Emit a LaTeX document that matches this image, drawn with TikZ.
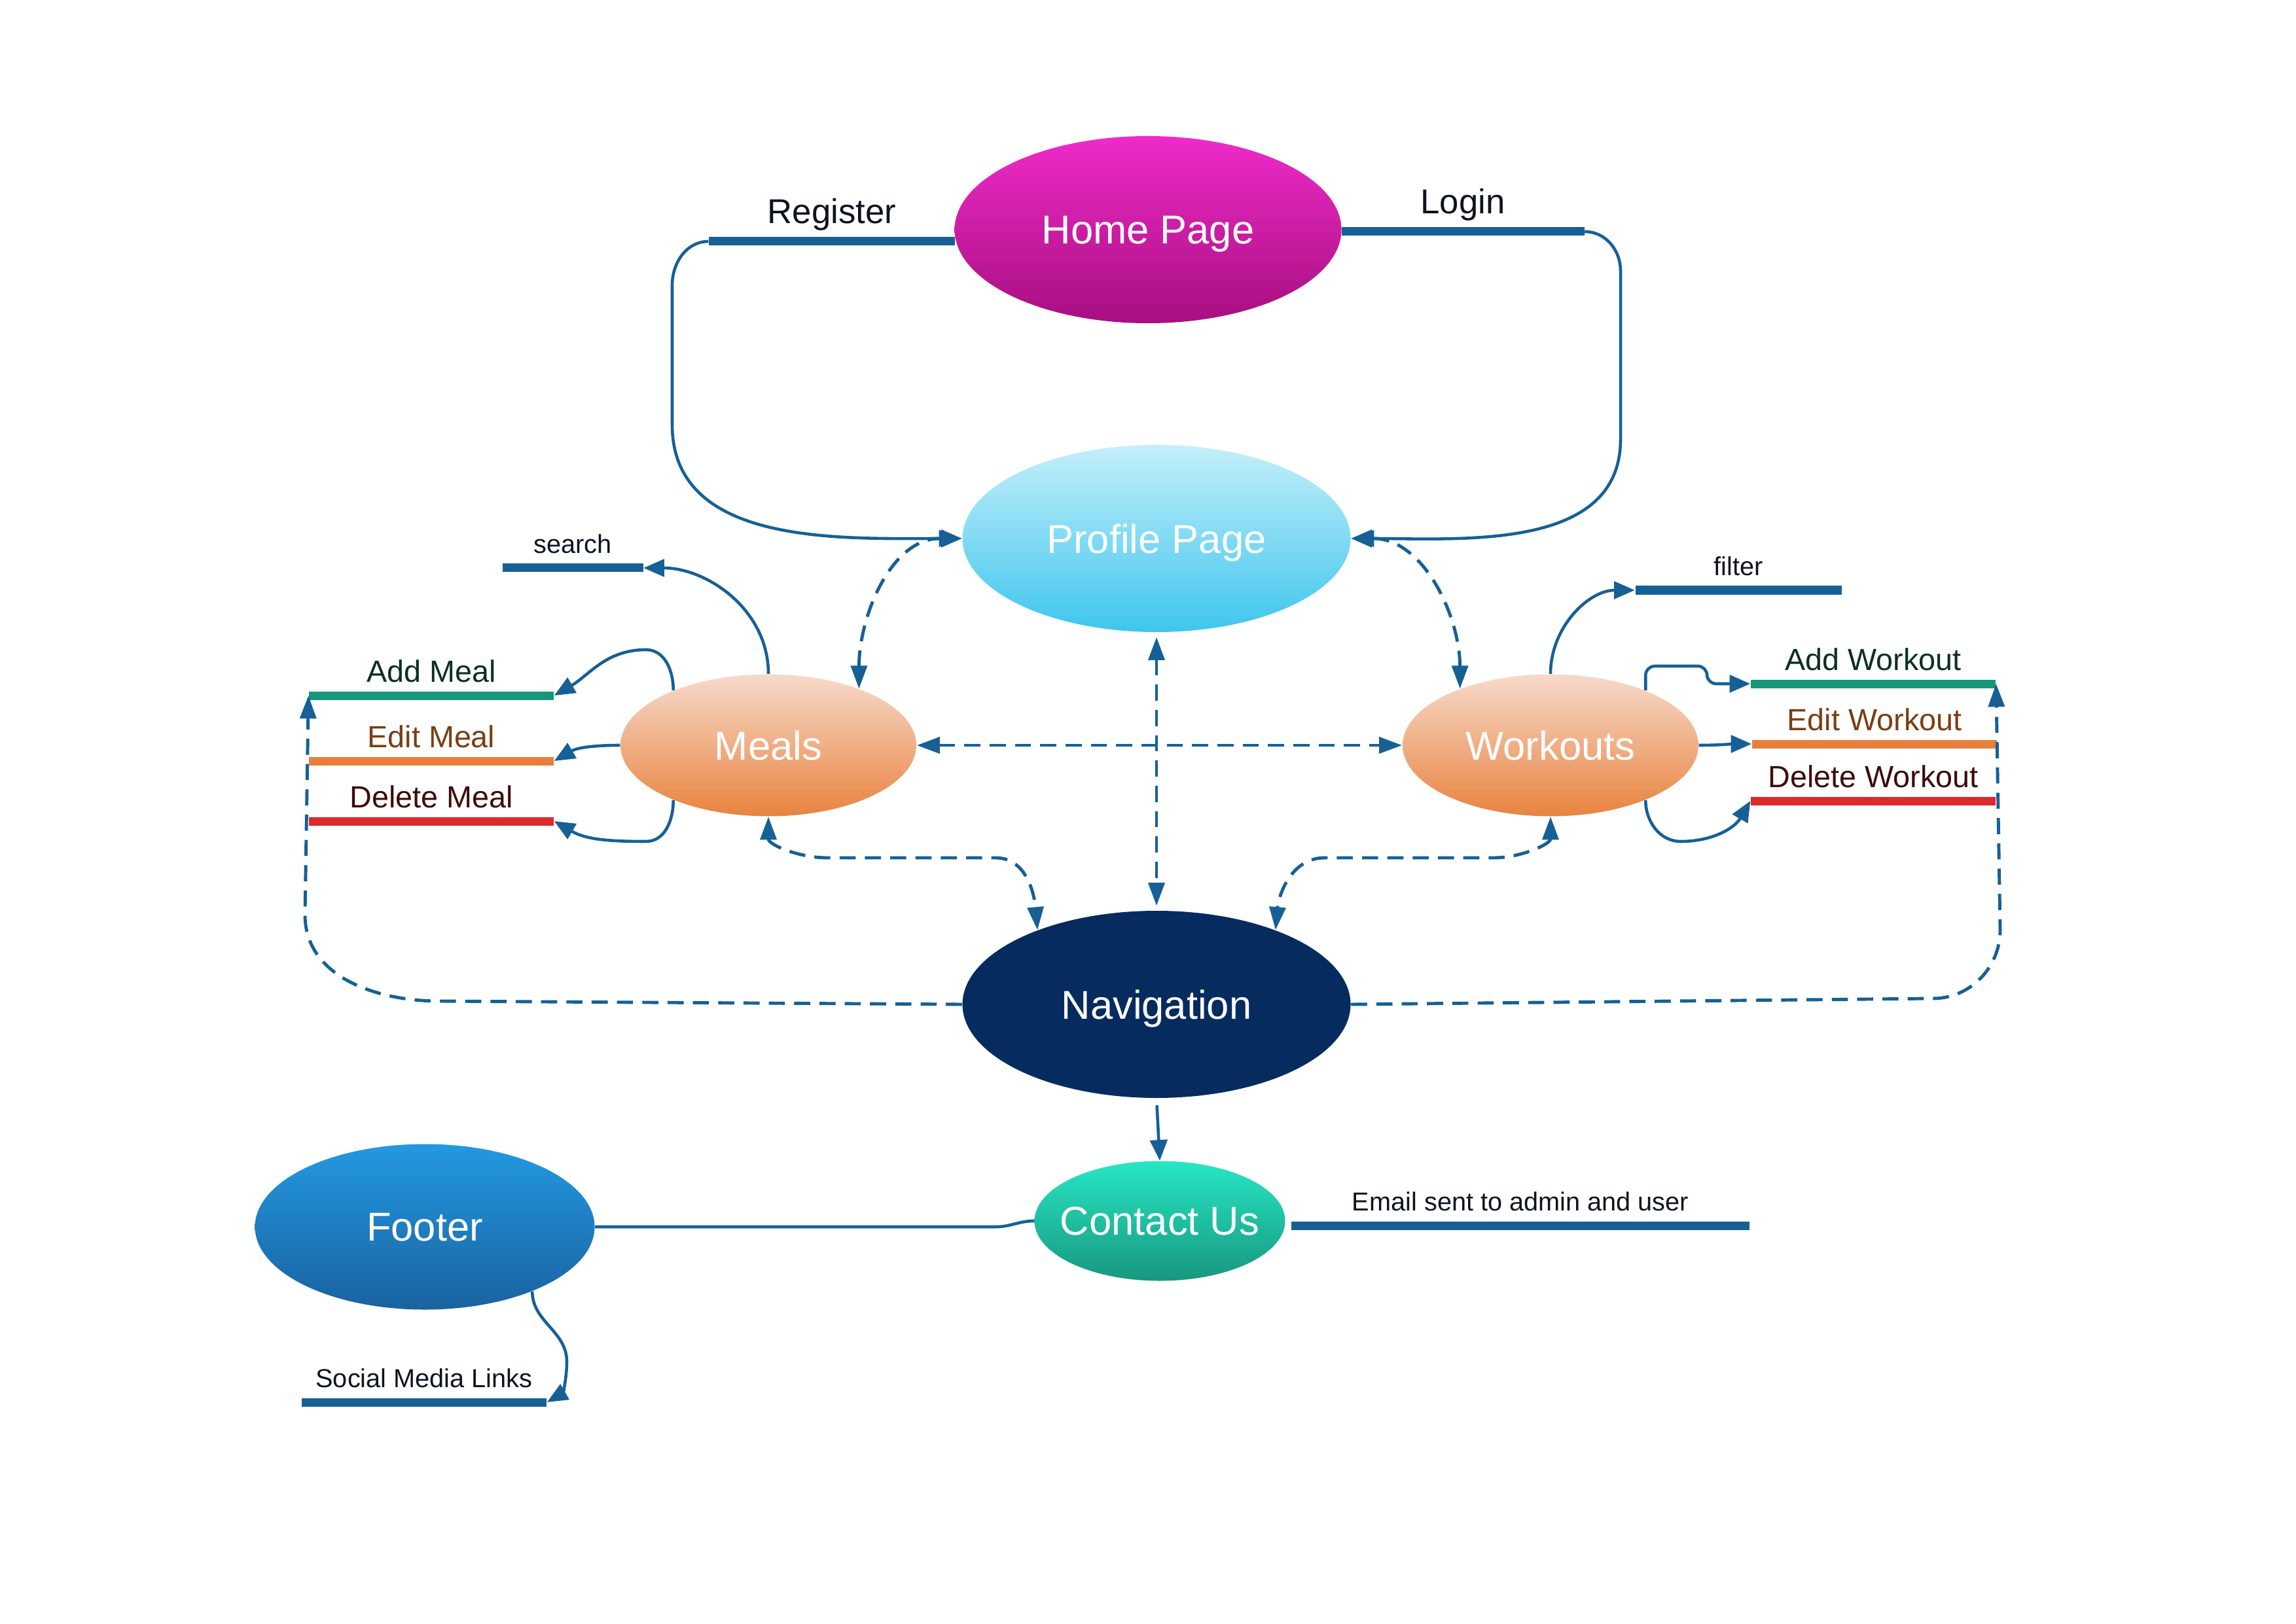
\documentclass[tikz,border=0pt]{standalone}
\usepackage{fontspec}
\setmainfont{Liberation Sans}
\usetikzlibrary{shapes.geometric,arrows.meta}
\definecolor{linkblue}{RGB}{22,96,150}
\definecolor{hometop}{RGB}{239,43,201}
\definecolor{homebot}{RGB}{167,15,128}
\definecolor{proftop}{RGB}{196,239,249}
\definecolor{profbot}{RGB}{62,198,238}
\definecolor{peachtop}{RGB}{247,218,203}
\definecolor{peachbot}{RGB}{233,131,63}
\definecolor{navblue}{RGB}{6,43,94}
\definecolor{contop}{RGB}{39,230,195}
\definecolor{conbot}{RGB}{23,152,127}
\definecolor{foottop}{RGB}{35,153,225}
\definecolor{footbot}{RGB}{26,98,160}
\definecolor{addgreen}{RGB}{23,151,122}
\definecolor{editorange}{RGB}{232,128,59}
\definecolor{delred}{RGB}{217,43,43}
\definecolor{addtext}{RGB}{12,47,37}
\definecolor{edittext}{RGB}{122,62,20}
\definecolor{deltext}{RGB}{62,11,11}
\definecolor{inktext}{RGB}{13,20,32}
\newcommand*{\inside}[1]{\makebox[0pt]{#1}}
\tikzset{
  page/.style={ellipse,inner sep=0pt,text=white,text depth=0pt,
    font=\fontsize{17.5}{21}\selectfont},
  bar/.style={rectangle,inner sep=0pt,minimum height=0.13cm,fill=#1},
  bar/.default=linkblue,
  lab/.style={inner sep=1pt,label distance=2.4pt,
    font=\fontsize{13.3}{16}\selectfont},
  biglab/.style={inner sep=1pt,label distance=1.6pt,text=inktext,
    font=\fontsize{15}{18}\selectfont},
  smalllab/.style={inner sep=1pt,label distance=3pt,text=inktext,
    font=\fontsize{11.3}{14}\selectfont},
  link/.style={linkblue,line width=1.3pt},
  tip/.style={-{Triangle[length=9pt,width=7.5pt]}},
  dlink/.style={linkblue,line width=1.4pt,dash pattern=on 7pt off 4pt,
    {Triangle[length=10pt,width=7pt]}-{Triangle[length=10pt,width=7pt]}},
  dtip/.style={-{Triangle[length=10pt,width=7pt]}}
}

\begin{document}
\begin{tikzpicture}
\useasboundingbox (0,0) rectangle (35.08,24.81);
%% Pages
\node[page,minimum width=5.91cm,minimum height=2.86cm,
  top color=hometop,bottom color=homebot] (home) at (17.54,21.30) {\inside{Home Page}};
\node[page,minimum width=5.93cm,minimum height=2.86cm,
  top color=proftop,bottom color=profbot] (prof) at (17.67,16.58) {\inside{Profile Page}};
\node[page,minimum width=4.52cm,minimum height=2.17cm,
  top color=peachtop,bottom color=peachbot] (meals) at (11.74,13.42) {\inside{Meals}};
\node[page,minimum width=4.52cm,minimum height=2.17cm,
  top color=peachtop,bottom color=peachbot] (wk) at (23.69,13.42) {\inside{Workouts}};
\node[page,minimum width=5.93cm,minimum height=2.86cm,fill=navblue] (nav) at (17.67,9.46) {\inside{Navigation}};
\node[page,minimum width=3.83cm,minimum height=1.83cm,
  top color=contop,bottom color=conbot] (contact) at (17.72,6.15) {\inside{Contact Us}};
\node[page,minimum width=5.19cm,minimum height=2.53cm,
  top color=foottop,bottom color=footbot] (footer) at (6.49,6.06) {\inside{Footer}};
%% Bars with their labels
\node[bar,minimum width=3.76cm,label={[biglab]above:Register}] (register) at (12.71,21.12) {};
\node[bar,minimum width=3.71cm,label={[biglab]above:Login}] (login) at (22.35,21.27) {};
\node[bar,minimum width=2.15cm,label={[smalllab]above:search}] (search) at (8.75,16.13) {};
\node[bar,minimum width=3.15cm,label={[smalllab]above:filter}] (filter) at (26.56,15.79) {};
\node[bar=addgreen,minimum width=3.74cm,label={[lab,text=addtext]above:Add Meal}] (addmeal) at (6.59,14.18) {};
\node[bar=editorange,minimum width=3.74cm,label={[lab,text=edittext]above:Edit Meal}] (editmeal) at (6.59,13.18) {};
\node[bar=delred,minimum width=3.74cm,label={[lab,text=deltext]above:Delete Meal}] (delmeal) at (6.59,12.26) {};
\node[bar=addgreen,minimum width=3.74cm,label={[lab,text=addtext]above:Add Workout}] (addwk) at (28.62,14.36) {};
\node[bar=editorange,minimum width=3.74cm,label={[lab,text=edittext]above:Edit Workout}] (editwk) at (28.64,13.44) {};
\node[bar=delred,minimum width=3.74cm,label={[lab,text=deltext]above:Delete Workout}] (delwk) at (28.62,12.57) {};
\node[bar,minimum width=7.00cm,label={[smalllab]above:Email sent to admin and user}] (email) at (23.23,6.08) {};
\node[bar,minimum width=3.74cm,label={[smalllab]above:Social Media Links}] (social) at (6.48,3.38) {};
%% Register and Login lead to the profile
\draw[link,tip] (register.west) to[out=180,in=90] (10.27,20.45) -- (10.27,18.32)
  to[out=-90,in=180] (prof.west);
\draw[link,tip] (login.east) to[out=0,in=90] (24.76,20.67) -- (24.76,18.10)
  to[out=-90,in=0] (prof.east);
%% Meal actions
\draw[link,tip] (meals.north) to[out=90,in=0] (search.east);
\draw[link,tip] (meals.150) to[out=90,in=0] (9.87,14.88) to[out=180,in=30] (addmeal.east);
\draw[link,tip] (meals.west) to[out=180,in=30] (editmeal.east);
\draw[link,tip] (meals.210) to[out=-90,in=0] (9.87,11.95) to[out=180,in=-30] (delmeal.east);
%% Workout actions
\draw[link,tip] (wk.north) to[out=90,in=180] (filter.west);
\draw[link,tip,rounded corners=4pt] (wk.30) |- (26.08,14.63) |- (addwk.west);
\draw[link,tip] (wk.east) to[out=0,in=180] (editwk.west);
\draw[link,tip] (wk.-30) to[out=-90,in=180] (25.68,11.95) to[out=0,in=240] (delwk.west);
%% Dashed links between pages
\draw[dlink] (meals.32) to[out=90,in=180] (prof.west);
\draw[dlink] (prof.east) to[out=0,in=90] (wk.148);
\draw[dlink] (meals.east) -- (wk.west);
\draw[dlink,shorten <=2pt,shorten >=2pt] (prof.south) -- (nav.north);
\draw[dlink] (meals.south) to[out=-90,in=180] (12.64,11.70) -- (15.21,11.70)
  to[out=0,in=95] (nav.148);
\draw[dlink] (wk.south) to[out=-90,in=0] (22.82,11.70) -- (20.24,11.70)
  to[out=180,in=85] (nav.32);
\draw[dlink,dtip] (nav.west) -- (6.71,9.51) to[out=180,in=-90] (4.66,10.83) -- (addmeal.west);
\draw[dlink,dtip] (nav.east) -- (29.53,9.55) to[out=0,in=-90] (30.56,10.60) -- (addwk.east);
%% Contact and footer
\draw[link,tip,shorten <=3pt] (nav.south) -- (contact.north);
\draw[link] (footer.east) -- (15.21,6.06) to[out=0,in=180] (contact.west);
\draw[link,tip] (footer.-31) to[out=-90,in=90] (8.66,4.00) to[out=-90,in=30] (social.east);
\end{tikzpicture}
\end{document}
